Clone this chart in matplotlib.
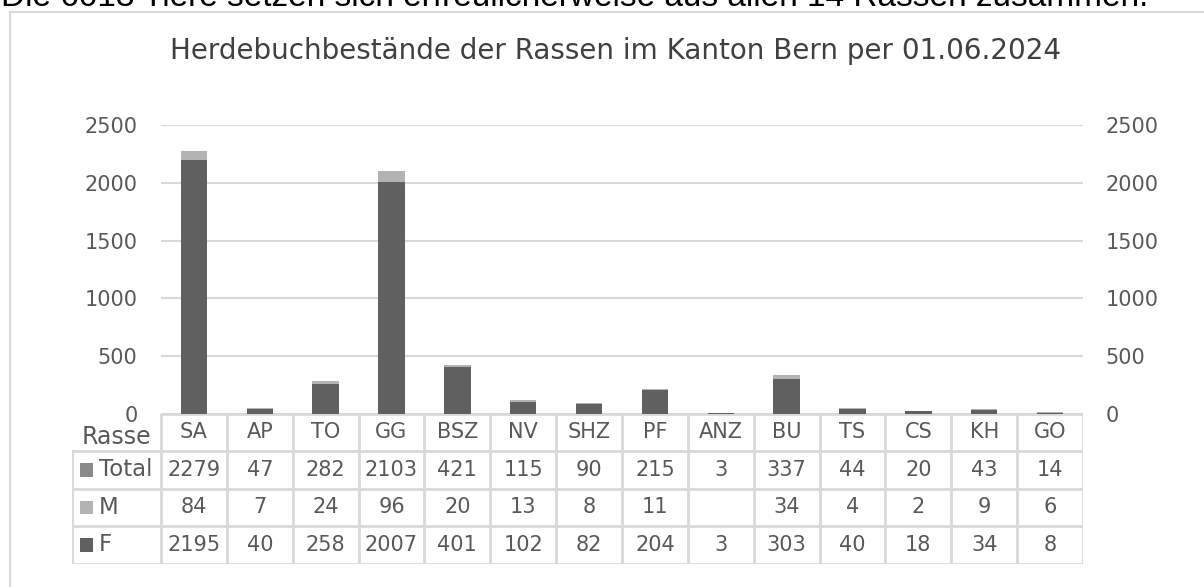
import matplotlib
matplotlib.use("Agg")
import matplotlib.pyplot as plt
from matplotlib.patches import Rectangle
import numpy as np

categories = ["SA", "AP", "TO", "GG", "BSZ", "NV", "SHZ", "PF", "ANZ", "BU", "TS", "CS", "KH", "GO"]
total = [2279, 47, 282, 2103, 421, 115, 90, 215, 3, 337, 44, 20, 43, 14]
male = [84, 7, 24, 96, 20, 13, 8, 11, None, 34, 4, 2, 9, 6]
female = [2195, 40, 258, 2007, 401, 102, 82, 204, 3, 303, 40, 18, 34, 8]
yticks = [0, 500, 1000, 1500, 2000, 2500]

title = "Herdebuchbestände der Rassen im Kanton Bern per 01.06.2024"
caption = "Die 6013 Tiere setzen sich erfreulicherweise aus allen 14 Rassen zusammen."

C_F = "#606060"
C_M = "#b3b3b3"
C_T = "#898989"
C_TXT = "#595959"
C_GRID = "#d9d9d9"
FONT = "DejaVu Sans"

W, H = 1204, 587
fig = plt.figure(figsize=(W / 100, H / 100), dpi=100)

def fx(px):
    return px / W

def fy(py):
    return 1 - py / H

# frame
fig.patches.append(Rectangle((fx(9.5), fy(600)), fx(1210) - fx(9.5), fy(12) - fy(600),
                             transform=fig.transFigure, fill=False, edgecolor=C_GRID, lw=1.5))

# clipped caption at top
fig.text(fx(1), fy(6), caption, ha="left", va="baseline", fontsize=24,
         family="Liberation Sans", color="black")

# main axes
x0, x1 = 161, 1083
ytop, ybot = 125.3, 413.5
ax = fig.add_axes([fx(x0), fy(ybot), fx(x1) - fx(x0), fy(ytop) - fy(ybot)])
x = np.arange(len(categories))
m_vals = [0 if v is None else v for v in male]
ax.bar(x, female, width=0.4, color=C_F, zorder=3)
ax.bar(x, m_vals, bottom=female, width=0.4, color=C_M, zorder=3)
ax.set_xlim(-0.5, len(categories) - 0.5)
ax.set_ylim(0, 2500)
ax.set_yticks(yticks)
ax.yaxis.grid(True, color=C_GRID, lw=1.5, zorder=0)
ax.set_xticks([])
for s in ax.spines.values():
    s.set_visible(False)
ax.tick_params(axis="y", length=0, pad=17, labelsize=15, labelcolor=C_TXT)
for lab in ax.get_yticklabels():
    lab.set_family(FONT)
ax2 = ax.twinx()
ax2.set_ylim(0, 2500)
ax2.set_yticks(yticks)
for s in ax2.spines.values():
    s.set_visible(False)
ax2.tick_params(axis="y", length=0, pad=16, labelsize=15, labelcolor=C_TXT)
for lab in ax2.get_yticklabels():
    lab.set_family(FONT)

fig.text(fx(615), fy(51), title, ha="center", va="center",
         fontsize=20, color="#404040", family=FONT)

# data table
tl = 72
tbot = 563.5
unit = (x1 - x0) / len(categories)
left_units = (x0 - tl) / unit
tax = fig.add_axes([fx(tl), fy(tbot), fx(x1) - fx(tl), fy(ybot) - fy(tbot)])
tax.set_xlim(-0.5 - left_units, len(categories) - 0.5)
tax.set_ylim(4, 0)
tax.axis("off")
lx = -0.5 - left_units
rx = len(categories) - 0.5
lc = dict(color=C_GRID, lw=2, solid_capstyle="projecting")
# horizontal lines
tax.plot([-0.5, rx], [0, 0], **lc)
for r in [1, 2, 3, 4]:
    tax.plot([lx, rx], [r, r], **lc)
# vertical lines
tax.plot([lx, lx], [1, 4], **lc)
for i in range(len(categories) + 1):
    tax.plot([i - 0.5, i - 0.5], [0, 4], **lc)

fs = 15
tax.text(-0.5 - 0.15, 0.62, "Rasse", ha="right", va="center", fontsize=17, color=C_TXT, family=FONT)
row_labels = ["Total", "M", "F"]
row_colors = [C_T, C_M, C_F]
rows = [total, male, female]
sq = 13 / unit
for r, (lab, col, vals) in enumerate(zip(row_labels, row_colors, rows), start=1):
    tax.add_patch(Rectangle((lx + 8 / unit, r + 0.5 - 0.18), sq, 0.36, color=col, lw=0))
    tax.text(lx + 27 / unit, r + 0.5, lab, ha="left", va="center", fontsize=16.5, color=C_TXT, family=FONT)
    for i, v in enumerate(vals):
        if v is not None:
            tax.text(i, r + 0.5, str(v), ha="center", va="center", fontsize=fs, color=C_TXT, family=FONT)
for i, c in enumerate(categories):
    tax.text(i, 0.5, c, ha="center", va="center", fontsize=fs, color=C_TXT, family=FONT)

fig.savefig("out.png", dpi=100)
